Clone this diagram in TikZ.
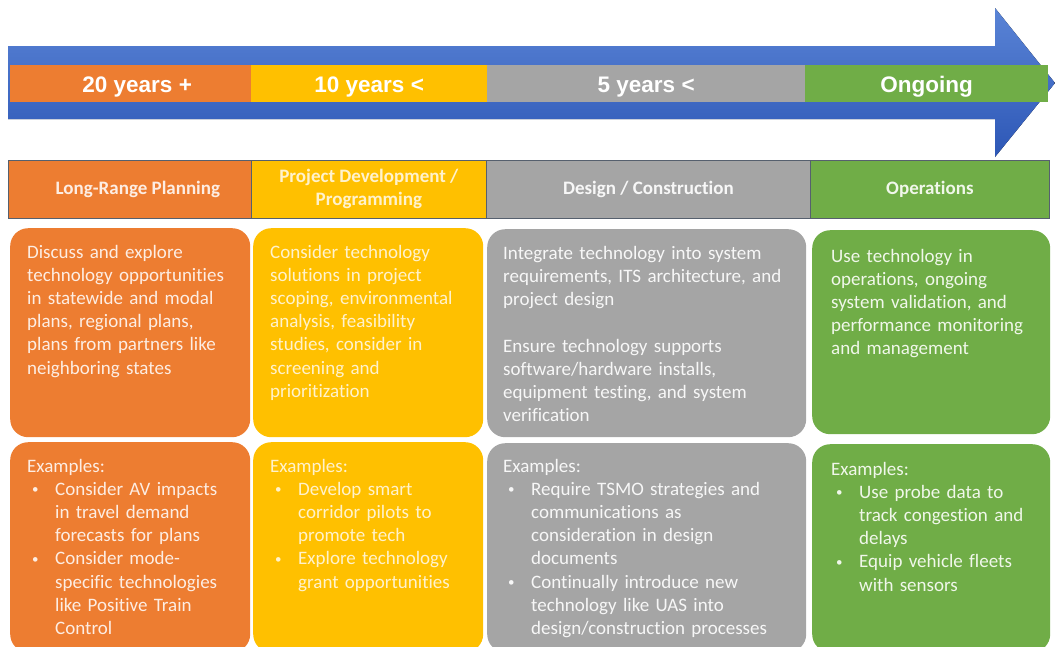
\documentclass[tikz,border=0pt]{standalone}
\usepackage{fontspec}
\newfontfamily\calfont[Ligatures={NoCommon}]{Carlito}
\newfontfamily\arifont{Liberation Sans}
\definecolor{cOr}{HTML}{ED7D31}
\definecolor{cYe}{HTML}{FFC000}
\definecolor{cGr}{HTML}{A5A5A5}
\definecolor{cGn}{HTML}{70AD47}
\definecolor{tOr}{HTML}{FDEDE3}
\definecolor{tYe}{HTML}{FFF2CC}
\definecolor{tGr}{HTML}{F7F7F7}
\definecolor{tGn}{HTML}{F0F7EA}
\definecolor{arTop}{HTML}{5A84D6}
\definecolor{arBot}{HTML}{2D57B6}
\definecolor{hdLine}{HTML}{56606E}
\newcommand\Bul{\makebox[28pt][l]{\hspace{5pt}\raisebox{1.8pt}{\fontsize{13}{0}\selectfont\textbullet}}}
\newcommand\Ind{\makebox[28pt]{}}
\begin{document}
\begin{tikzpicture}[x=1pt,y=-1pt,
  card/.style={draw=none, rounded corners=18pt, inner sep=0pt, anchor=north west},
  txt/.style={font=\calfont\fontsize{19}{23.2}\selectfont, align=left, inner sep=0pt, anchor=base west, text width=310pt},
  hdr/.style={draw=hdLine, line width=0.8pt, font=\calfont\bfseries\fontsize{19}{23}\selectfont, align=center, inner sep=0pt, anchor=north west, minimum height=58pt},
  seg/.style={draw=none, font=\arifont\bfseries\fontsize{22.5}{26}\selectfont, text=white, inner sep=0pt, anchor=north west, minimum height=37pt, text height=17.5pt, text depth=0pt}]
\useasboundingbox (0,0) rectangle (1055,646);
\clip (0,0) rectangle (1055,646);
% timeline arrow
\fill[top color=arTop, bottom color=arBot] (8,46) -- (995,46) -- (995,8) -- (1055,83) -- (995,157) -- (995,119) -- (8,119) -- cycle;
\node[seg, fill=cOr, minimum width=241pt] (s1) at (10,65) {\hspace*{13pt}20 years +};
\node[seg, fill=cYe, minimum width=236pt] (s2) at (251,65) {10 years <};
\node[seg, fill=cGr, minimum width=318pt] (s3) at (487,65) {5 years <};
\node[seg, fill=cGn, minimum width=243pt] (s4) at (805,65) {Ongoing};
% headers
\node[hdr, fill=cOr, text=tOr, minimum width=243pt] (h1) at (8,160) {\hspace*{16pt}Long-Range Planning};
\node[hdr, fill=cYe, text=tYe, minimum width=235pt] (h2) at (251,160) {Project Development /\\Programming};
\node[hdr, fill=cGr, text=tGr, minimum width=324pt] (h3) at (486,160) {Design / Construction};
\node[hdr, fill=cGn, text=tGn, minimum width=239pt] (h4) at (810,160) {Operations};
% row 1 cards
\node[card, fill=cOr, minimum width=240pt, minimum height=209pt] (o1) at (10,228) {};
\node[card, fill=cYe, minimum width=230pt, minimum height=209pt] (y1) at (253,228) {};
\node[card, fill=cGr, minimum width=319pt, minimum height=208pt] (g1) at (487,229) {};
\node[card, fill=cGn, minimum width=238pt, minimum height=204pt] (n1) at (812,230) {};
% row 2 cards
\node[card, fill=cOr, minimum width=240pt, minimum height=210pt] (o2) at (10,442) {};
\node[card, fill=cYe, minimum width=230pt, minimum height=210pt] (y2) at (253,442) {};
\node[card, fill=cGr, minimum width=319pt, minimum height=209pt] (g2) at (487,443) {};
\node[card, fill=cGn, minimum width=238pt, minimum height=208pt] (n2) at (812,444) {};
% row 1 texts
\node[txt, text=tOr] (o1t) at (27,258) {Discuss and explore\\technology opportunities\\in statewide and modal\\plans, regional plans,\\plans from partners like\\neighboring states};
\node[txt, text=tYe] (y1t) at (270,258) {Consider technology\\solutions in project\\scoping, environmental\\analysis, feasibility\\studies, consider in\\screening and\\prioritization};
\node[txt, text=tGr] (g1t) at (503,259) {Integrate technology into system\\requirements, ITS architecture, and\\project design\\[23.6pt]Ensure technology supports\\software/hardware installs,\\equipment testing, and system\\verification};
\node[txt, text=tGn] (n1t) at (831,262) {Use technology in\\operations, ongoing\\system validation, and\\performance monitoring\\and management};
% row 2 texts
\node[txt, text=tOr] (o2t) at (27,472) {Examples:\\\Bul Consider AV impacts\\\Ind in travel demand\\\Ind forecasts for plans\\\Bul Consider mode-\\\Ind specific technologies\\\Ind like Positive Train\\\Ind Control};
\node[txt, text=tYe] (y2t) at (270,472) {Examples:\\\Bul Develop smart\\\Ind corridor pilots to\\\Ind promote tech\\\Bul Explore technology\\\Ind grant opportunities};
\node[txt, text=tGr] (g2t) at (503,472) {Examples:\\\Bul Require TSMO strategies and\\\Ind communications as\\\Ind consideration in design\\\Ind documents\\\Bul Continually introduce new\\\Ind technology like UAS into\\\Ind design/construction processes};
\node[txt, text=tGn] (n2t) at (831,475) {Examples:\\\Bul Use probe data to\\\Ind track congestion and\\\Ind delays\\\Bul Equip vehicle fleets\\\Ind with sensors};
\end{tikzpicture}
\end{document}
